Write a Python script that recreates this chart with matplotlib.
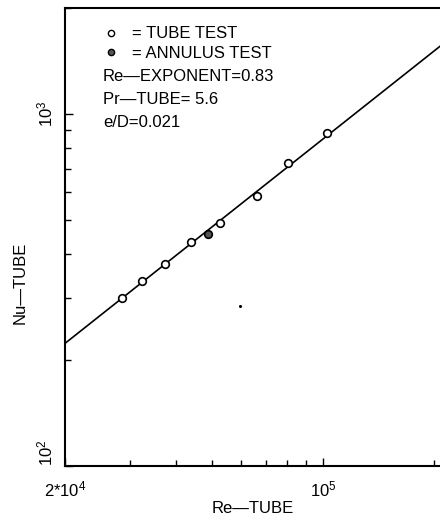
import matplotlib
matplotlib.use('Agg')
import matplotlib.pyplot as plt
from matplotlib.lines import Line2D
from matplotlib.ticker import FixedLocator, NullFormatter

plt.rcParams['font.family'] = ['Liberation Sans', 'DejaVu Sans']
plt.rcParams['mathtext.fontset'] = 'custom'
plt.rcParams['mathtext.rm'] = 'Liberation Sans'
plt.rcParams['mathtext.default'] = 'regular'

# tube test points (Re, Nu)
tube_re = [28600, 32400, 37300, 43800, 52700, 66100, 80600, 102800]
tube_nu = [301, 335, 375, 434, 489, 586, 727, 885]
# annulus test point
ann_re = [48700]
ann_nu = [456]
# fitted line end points (Re-exponent 0.83)
fit_re = [20000, 208000]
fit_nu = [223, 1560]
# stray speck in the scan
speck_re = [59600]
speck_nu = [285]

x_major = [2e4, 1e5]
x_labels = ['2*10$^4$', '10$^5$']
x_minor = [3e4, 4e4, 5e4, 6e4, 7e4, 8e4, 9e4, 2e5]
y_major = [100, 1000]
y_labels = ['10$^2$', '10$^3$']
y_minor = [200, 300, 400, 500, 600, 700, 800, 900, 2000]

fs = 12

fig = plt.figure(figsize=(4.4, 5.19), dpi=100)
ax = fig.add_axes([65/440, 53/519, 375/440, 458/519])
ax.set_xscale('log')
ax.set_yscale('log')
ax.set_xlim(2e4, 2.075e5)
ax.set_ylim(100, 2000)

ax.plot(fit_re, fit_nu, color='black', lw=1.2)
ax.plot(tube_re, tube_nu, 'o', ms=5.5, mfc='white', mec='black', mew=1.2)
ax.plot(ann_re, ann_nu, 'o', ms=5.5, mfc='#555555', mec='black', mew=1.2)
ax.plot(speck_re, speck_nu, 'o', ms=1.2, color='black')

for s in ['left', 'bottom', 'top']:
    ax.spines[s].set_linewidth(1.5)
ax.spines['right'].set_visible(False)

ax.xaxis.set_major_locator(FixedLocator(x_major))
ax.xaxis.set_minor_locator(FixedLocator(x_minor))
ax.set_xticklabels(x_labels)
ax.xaxis.set_minor_formatter(NullFormatter())
ax.yaxis.set_major_locator(FixedLocator(y_major))
ax.yaxis.set_minor_locator(FixedLocator(y_minor))
ax.set_yticklabels(y_labels, rotation=90, va='center')
ax.yaxis.set_minor_formatter(NullFormatter())
ax.tick_params(which='both', direction='in', labelsize=fs, width=1)
ax.tick_params(which='major', length=6)
ax.tick_params(which='minor', length=4)
ax.tick_params(axis='x', which='major', pad=10)
ax.tick_params(axis='y', which='major', pad=7)
# lift the lower y label clear of the x label
ax.get_yticklabels()[0].set_va('bottom')

ax.set_xlabel('Re—TUBE', fontsize=fs, labelpad=1)
ax.set_ylabel('Nu—TUBE', fontsize=fs)
ax.yaxis.set_label_coords(-0.1, 0.40)

handles = [
    Line2D([], [], ls='none', marker='o', ms=4.5, mfc='white', mec='black', mew=1),
    Line2D([], [], ls='none', marker='o', ms=4.5, mfc='#555555', mec='black', mew=1),
]
ax.legend(handles, ['= TUBE TEST', '= ANNULUS TEST'], loc='upper left',
          bbox_to_anchor=(0.082, 0.978), frameon=False, fontsize=fs,
          handlelength=0.8, handletextpad=0.9, labelspacing=0.25, borderpad=0)

ax.text(0.101, 0.8515, 'Re—EXPONENT=0.83', transform=ax.transAxes, fontsize=fs, va='center')
ax.text(0.101, 0.801, 'Pr—TUBE= 5.6', transform=ax.transAxes, fontsize=fs, va='center')
ax.text(0.101, 0.751, 'e/D=0.021', transform=ax.transAxes, fontsize=fs, va='center')

fig.savefig('out.png', dpi=100)
